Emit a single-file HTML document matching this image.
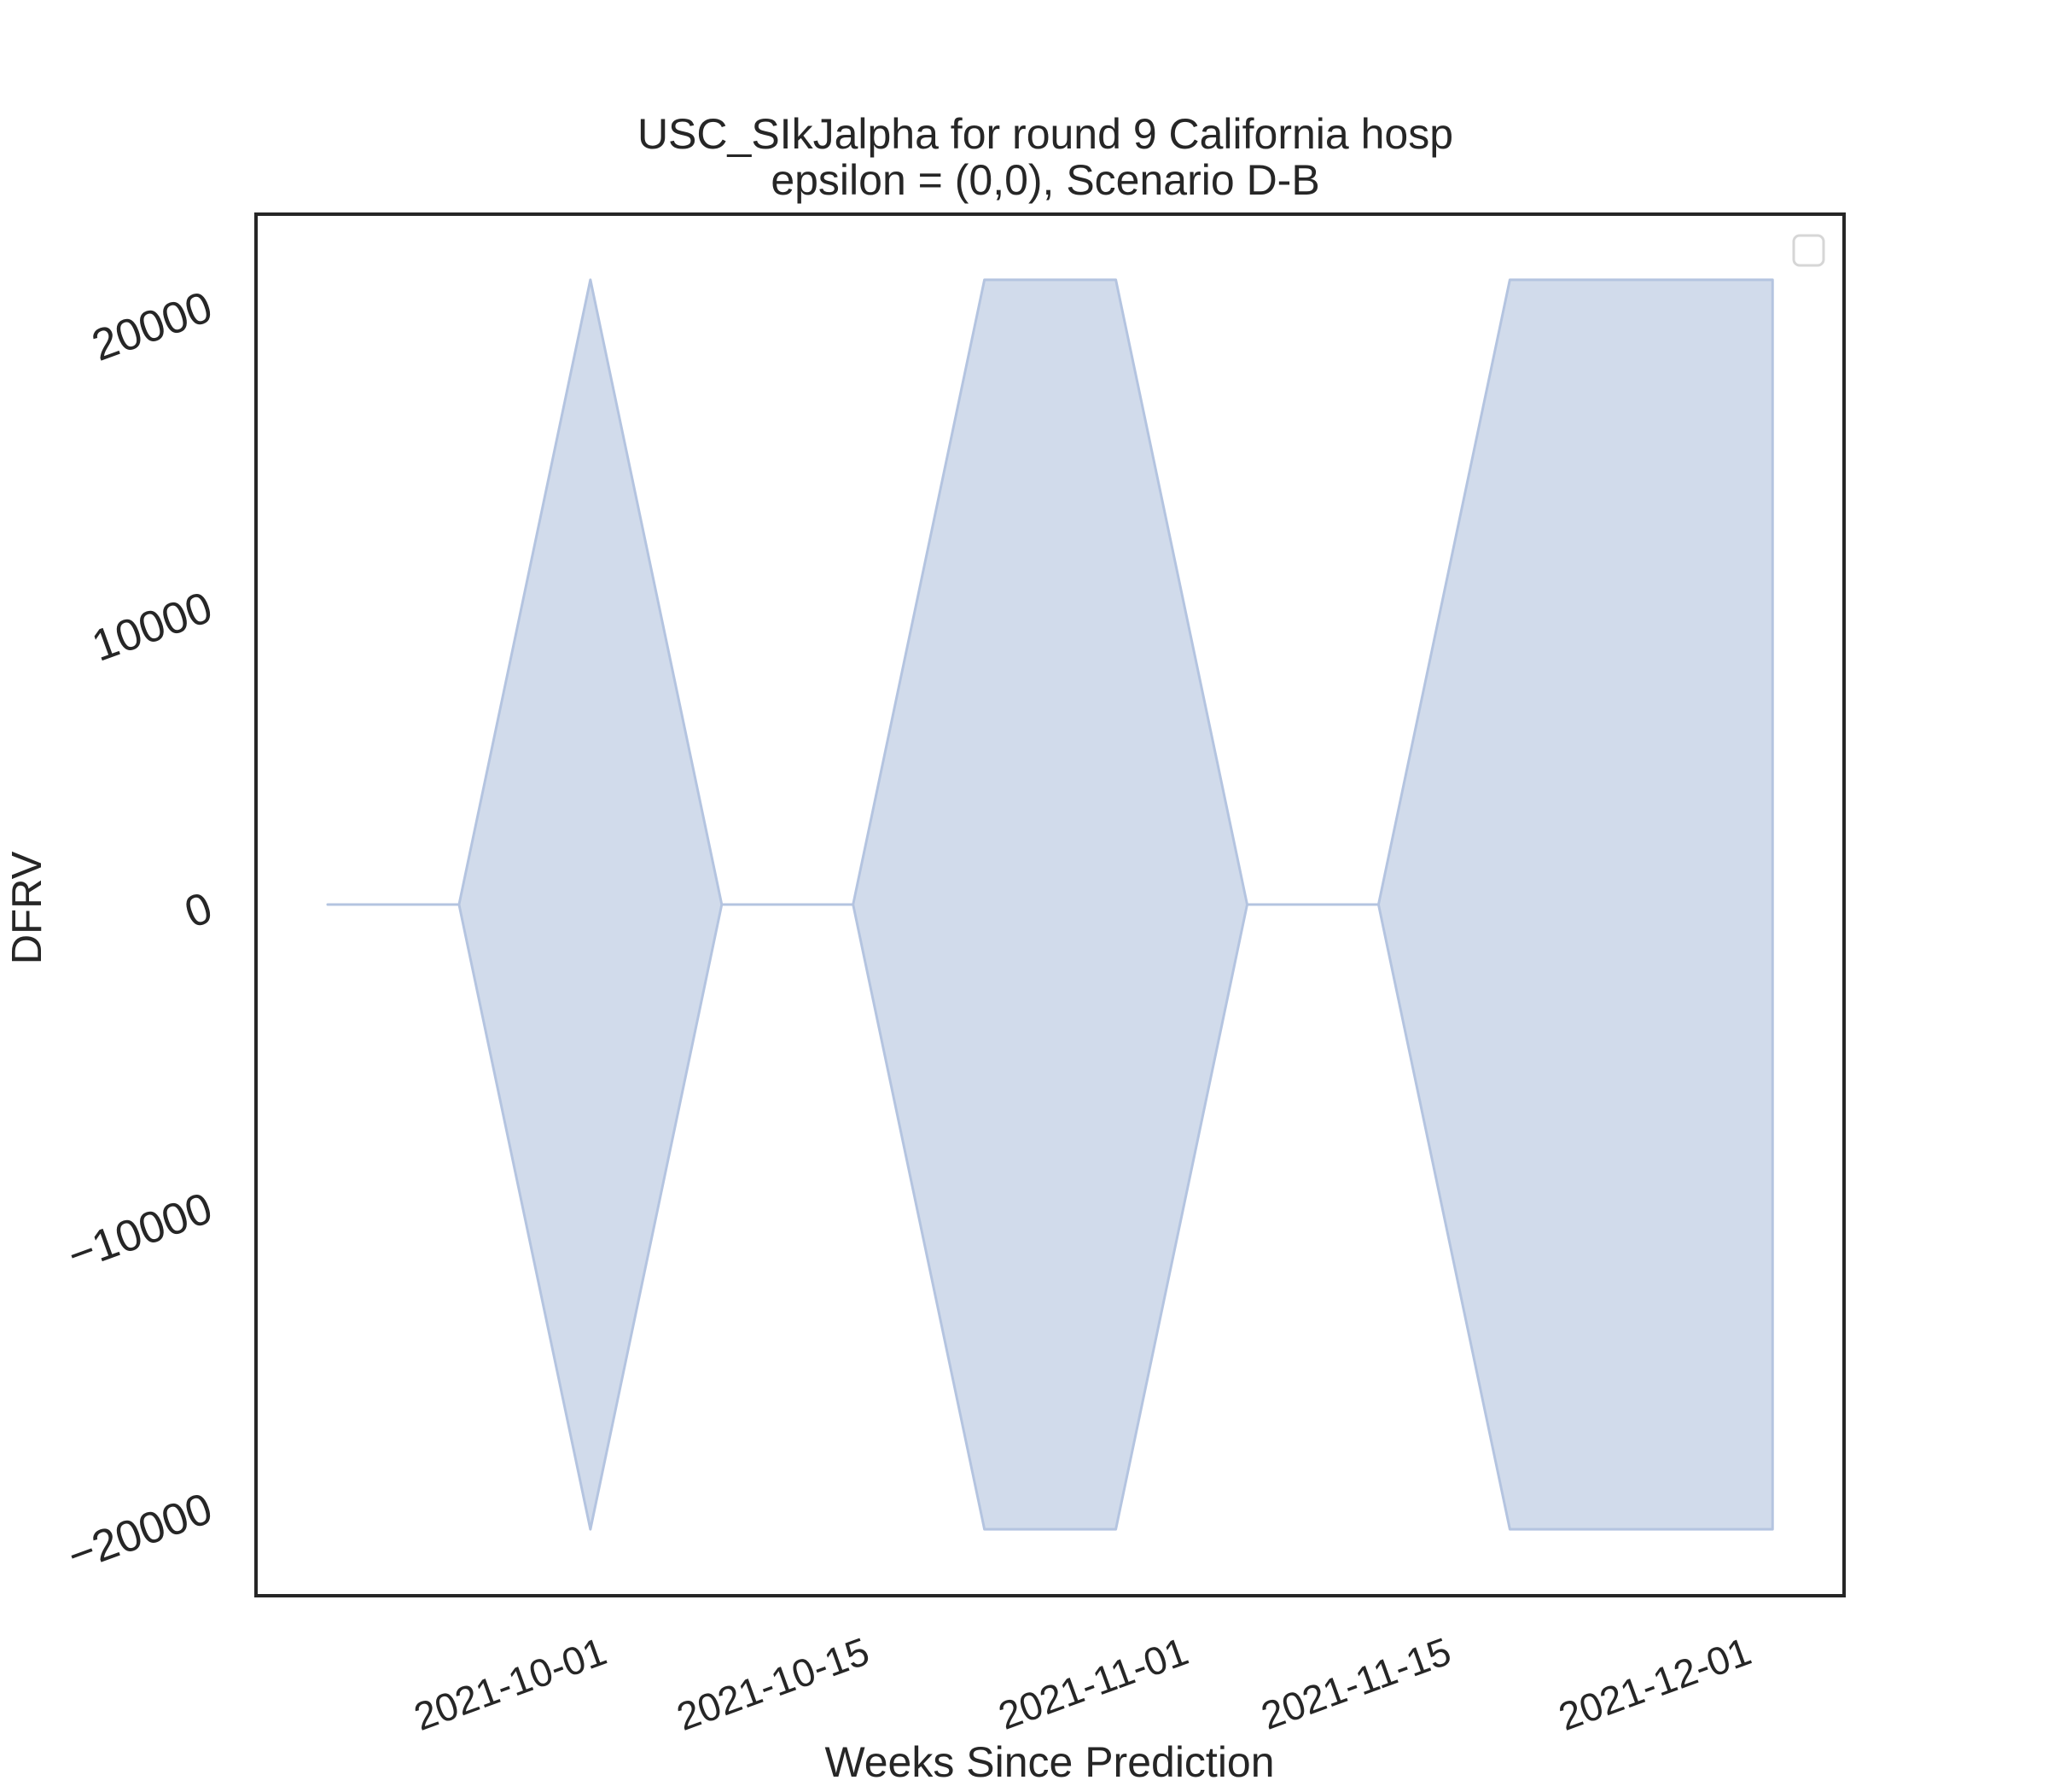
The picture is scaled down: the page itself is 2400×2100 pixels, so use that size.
<!DOCTYPE html>
<html><head><meta charset="utf-8"><style>
html,body{margin:0;padding:0;background:#fff;}
svg{display:block;font-family:"Liberation Sans",Arial,sans-serif;}
</style></head><body>
<svg id="chart" width="2400" height="2100" viewBox="0 0 2400 2100" xmlns="http://www.w3.org/2000/svg">
<rect width="2400" height="2100" fill="#fff"/>
<text x="1225" y="174" font-size="50" text-anchor="middle" fill="#262626">USC_SIkJalpha for round 9 California hosp</text>
<text x="1225" y="228" font-size="50" text-anchor="middle" fill="#262626">epsilon = (0,0), Scenario D-B</text>
<g id="plot"></g>
<rect x="300" y="251" width="1861" height="1619" fill="none" stroke="#262626" stroke-width="4"/>
<rect x="2102" y="276" width="35" height="35" rx="7" fill="#fff" stroke="#d6d6d6" stroke-width="3"/>
<text transform="translate(48,1064) rotate(-90)" font-size="49" text-anchor="middle" fill="#262626">DFRV</text>
<text x="1230" y="2082" font-size="50" text-anchor="middle" fill="#262626">Weeks Since Prediction</text>
<g id="yticks"></g><g id="xticks"></g>
</svg>
<script>
const dates = ["2021-09-16","2021-09-23","2021-09-30","2021-10-07","2021-10-14","2021-10-21","2021-10-28","2021-11-04","2021-11-11","2021-11-18","2021-11-25","2021-12-02"];
const upper = [0,0,20800,0,0,20800,20800,0,0,20800,20800,20800];
const lower = [0,0,-20800,0,0,-20800,-20800,0,0,-20800,-20800,-20800];
const yTickValues = [-20000,-10000,0,10000,20000];
const yTickLabels = ["\u221220000","\u221210000","0","10000","20000"];
const xTickDates = ["2021-10-01","2021-10-15","2021-11-01","2021-11-15","2021-12-01"];

const NS="http://www.w3.org/2000/svg";
const day0=Date.parse("2021-09-16");
function xs(d){return 384+(Date.parse(d)-day0)/86400000*21.99;}
function ys(v){return 1060-v/10000*352;}
const plot=document.getElementById('plot');
let pts=[];
for(let i=0;i<dates.length;i++)pts.push(xs(dates[i])+','+ys(upper[i]));
for(let i=dates.length-1;i>=0;i--)pts.push(xs(dates[i])+','+ys(lower[i]));
const poly=document.createElementNS(NS,'polygon');
poly.setAttribute('points',pts.join(' '));
poly.setAttribute('fill','#d1dbeb');
poly.setAttribute('stroke','#b4c4e0');
poly.setAttribute('stroke-width','3');
poly.setAttribute('stroke-linejoin','round');


plot.appendChild(poly);
const yg=document.getElementById('yticks');
yTickValues.forEach((v,i)=>{
  const t=document.createElementNS(NS,'text');
  const y=ys(v)+18;
  t.setAttribute('x',252);t.setAttribute('y',y);
  t.setAttribute('transform','rotate(-20,252,'+y+')');
  t.setAttribute('text-anchor','end');t.setAttribute('font-size','52');t.setAttribute('fill','#262626');
  t.textContent=yTickLabels[i];
  
  
  yg.appendChild(t);
});
const xg=document.getElementById('xticks');
xTickDates.forEach(d=>{
  const t=document.createElementNS(NS,'text');
  const x=xs(d),y=1948;
  t.setAttribute('x',x);t.setAttribute('y',y);
  t.setAttribute('transform','rotate(-20,'+x+','+y+')');
  t.setAttribute('text-anchor','end');t.setAttribute('font-size','46');t.setAttribute('fill','#262626');
  t.textContent=d;
  
  
  xg.appendChild(t);
});
</script>
</body></html>
